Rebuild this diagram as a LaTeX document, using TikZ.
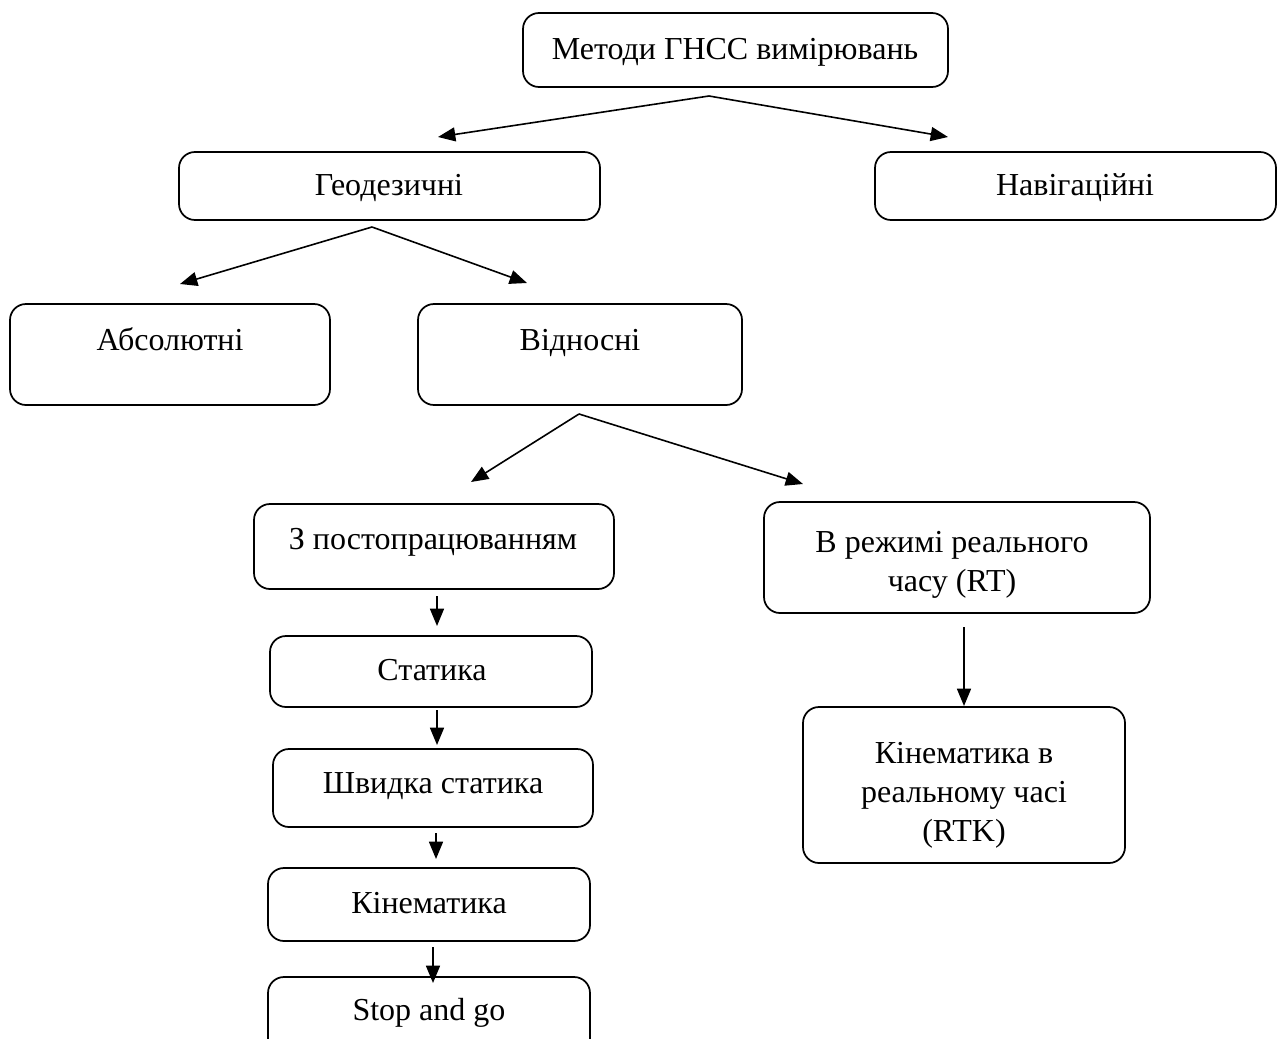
\documentclass[tikz,border=0pt]{standalone}
\usepackage{fontspec}
\setmainfont{Liberation Serif}
\usetikzlibrary{arrows.meta,fit}
\begin{document}
\begin{tikzpicture}[x=0.75pt,y=-0.75pt,
  box/.style={draw, line width=1.3pt, rounded corners=12pt, inner sep=0pt},
  lbl/.style={anchor=base, inner sep=0pt, font=\fontsize{24}{29}\selectfont, align=center},
  arr/.style={line width=1.2pt, -{Triangle[length=13pt,width=10.5pt]}}]
\useasboundingbox (0,0) rectangle (1279,1039);
% boxes
\node[box, fit={(523,13) (948,87)}] (top) {};
\node[box, fit={(179,152) (600,220)}] (geo) {};
\node[box, fit={(875,152) (1276,220)}] (nav) {};
\node[box, fit={(10,304) (330,405)}] (abs) {};
\node[box, fit={(418,304) (742,405)}] (rel) {};
\node[box, fit={(254,504) (614,589)}] (post) {};
\node[box, fit={(764,502) (1150,613)}] (rt) {};
\node[box, fit={(270,636) (592,707)}] (stat) {};
\node[box, fit={(273,749) (593,827)}] (fast) {};
\node[box, fit={(268,868) (590,941)}] (kin) {};
\node[box, fit={(268,977) (590,1070)}] (stop) {};
\node[box, fit={(803,707) (1125,863)}] (rtk) {};
% labels
\node[lbl] (ttop) at (735,59) {Методи ГНСС вимірювань};
\node[lbl] (tgeo) at (389,195) {Геодезичні};
\node[lbl] (tnav) at (1075,195) {Навігаційні};
\node[lbl] (tabs) at (170,350) {Абсолютні};
\node[lbl] (trel) at (580,350) {Відносні};
\node[lbl] (tpost) at (433,549) {З постопрацюванням};
\node[lbl] (trt) at (952,591) {В режимі реального\\часу (RT)};
\node[lbl] (tstat) at (432,680) {Статика};
\node[lbl] (tfast) at (433,793) {Швидка статика};
\node[lbl] (tkin) at (429,913) {Кінематика};
\node[lbl] (tstop) at (429,1020) {Stop and go};
\node[lbl] (trtk) at (964,841) {Кінематика в\\реальному часі\\(RTK)};
% connector points
\coordinate (a1) at (709,96);
\coordinate (a1l) at (438,137);
\coordinate (a1r) at (948,137);
\coordinate (a2) at (372,227);
\coordinate (a2l) at (180,284);
\coordinate (a2r) at (527,283);
\coordinate (a3) at (579,414);
\coordinate (a3l) at (471,482);
\coordinate (a3r) at (803,484);
\coordinate (v1s) at (437,596);
\coordinate (v1e) at (437,626);
\coordinate (v2s) at (437,710);
\coordinate (v2e) at (437,745);
\coordinate (v3s) at (436,833);
\coordinate (v3e) at (436,859);
\coordinate (v4s) at (433,947);
\coordinate (v4e) at (433,983);
\coordinate (v5s) at (964,627);
\coordinate (v5e) at (964,706);
% connectors
\draw[arr] (a1) -- (a1l);
\draw[arr] (a1) -- (a1r);
\draw[arr] (a2) -- (a2l);
\draw[arr] (a2) -- (a2r);
\draw[arr] (a3) -- (a3l);
\draw[arr] (a3) -- (a3r);
\draw[arr] (v1s) -- (v1e);
\draw[arr] (v2s) -- (v2e);
\draw[arr] (v3s) -- (v3e);
\draw[arr] (v4s) -- (v4e);
\draw[arr] (v5s) -- (v5e);
\end{tikzpicture}
\end{document}
